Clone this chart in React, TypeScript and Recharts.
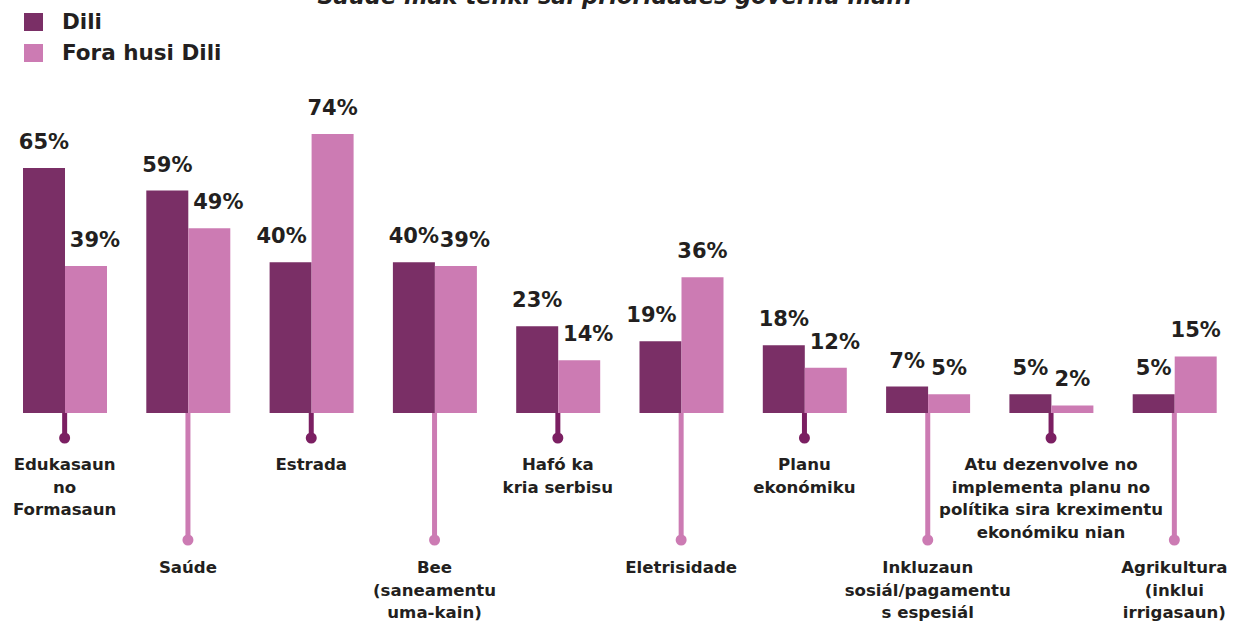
import React from "react";
import { BarChart, Bar, XAxis, YAxis, LabelList, Legend } from "recharts";

const categories = [
  "Edukasaun\nno\nFormasaun",
  "Saúde",
  "Estrada",
  "Bee\n(saneamentu\numa-kain)",
  "Hafó ka\nkria serbisu",
  "Eletrisidade",
  "Planu\nekonómiku",
  "Inkluzaun\nsosiál/pagamentu\ns espesiál",
  "Atu dezenvolve no\nimplementa planu no\npolítika sira kreximentu\nekonómiku nian",
  "Agrikultura\n(inklui\nirrigasaun)",
];
const dili = [65, 59, 40, 40, 23, 19, 18, 7, 5, 5];
const foraHusiDili = [39, 49, 74, 39, 14, 36, 12, 5, 2, 15];
const seriesNames = ["Dili", "Fora husi Dili"];
const title = "Saúde mak tenki sai prioridades governu nian?";

const data = categories.map((name, i) => ({
  name,
  dili: dili[i],
  fora: foraHusiDili[i],
}));

const DARK = "#7a2f66";
const PINK = "#cc7bb3";
const DARK_LINE = "#7b1f62";
const TEXT = "#231f20";
const FONT = "'DejaVu Sans', sans-serif";

const W = 1240;
const H = 621;
const margin = { top: 36, right: 4, bottom: 178, left: 3 };
const X_AXIS_H = 30;
const BASE = H - margin.bottom - X_AXIS_H; // bar baseline

// label above bar; the shorter bar of a pair gets nudged outward
const makeLabel = (mine: number[], other: number[], side: number) => (props: any) => {
  const { x, y, width, value, index } = props;
  let dx = 0;
  if (mine[index] < other[index] && mine[index] >= 10) dx = 9 * side;
  return (
    <text
      x={Number(x) + Number(width) / 2 + dx}
      y={Number(y) - 19}
      textAnchor="middle"
      fill={TEXT}
      fontFamily={FONT}
      fontWeight="bold"
      fontSize={21}
    >
      {value}%
    </text>
  );
};

const CategoryTick = (props: any) => {
  const { x, payload } = props;
  const low = payload.index % 2 === 1;
  const color = low ? PINK : DARK_LINE;
  const dotY = low ? 540 : 438;
  const textY = low ? 573 : 470;
  const lines = String(payload.value).split("\n");
  return (
    <g>
      <line x1={x} x2={x} y1={BASE} y2={dotY} stroke={color} strokeWidth={5} />
      <circle cx={x} cy={dotY} r={5.5} fill={color} />
      <text textAnchor="middle" fill={TEXT} fontFamily={FONT} fontWeight="bold" fontSize={16.6}>
        {lines.map((l, i) => (
          <tspan key={i} x={x} y={textY + i * 22.5}>
            {l}
          </tspan>
        ))}
      </text>
    </g>
  );
};

const renderLegend = () => (
  <div style={{ position: "relative", width: 260, height: 70 }}>
    {seriesNames.map((n, i) => (
      <div key={n} style={{ position: "absolute", left: 24, top: 13 + i * 31, display: "flex", alignItems: "center" }}>
        <span style={{ display: "inline-block", width: 19, height: 18, background: i === 0 ? DARK : PINK }} />
        <span
          style={{
            marginLeft: 19,
            fontFamily: FONT,
            fontWeight: "bold",
            fontSize: 21.5,
            color: TEXT,
            lineHeight: "18px",
          }}
        >
          {n}
        </span>
      </div>
    ))}
  </div>
);

export default function App() {
  return (
    <div style={{ position: "absolute", left: 0, top: 0, width: 1233, height: H, overflow: "hidden", background: "#fff" }}>
      <div
        style={{
          position: "absolute",
          left: 0,
          width: 1233,
          top: -16,
          textAlign: "center",
          fontFamily: FONT,
          fontWeight: "bold",
          fontStyle: "italic",
          fontSize: 22.5,
          color: TEXT,
          lineHeight: "24px",
        }}
      >
        {title}
      </div>
      <BarChart width={W} height={H} data={data} margin={margin} barGap={0} barCategoryGap={20}>
        <XAxis
          dataKey="name"
          axisLine={false}
          tickLine={false}
          interval={0}
          height={X_AXIS_H}
          tick={<CategoryTick />}
        />
        <YAxis hide domain={[0, 100]} />
        <Legend
          layout="horizontal"
          verticalAlign="middle"
          align="center"
          content={renderLegend}
          wrapperStyle={{ position: "absolute", left: 0, top: 0, width: 260, height: 70 }}
        />
        <Bar dataKey="dili" name={seriesNames[0]} fill={DARK} isAnimationActive={false}>
          <LabelList dataKey="dili" content={makeLabel(dili, foraHusiDili, -1)} />
        </Bar>
        <Bar dataKey="fora" name={seriesNames[1]} fill={PINK} isAnimationActive={false}>
          <LabelList dataKey="fora" content={makeLabel(foraHusiDili, dili, 1)} />
        </Bar>
      </BarChart>
    </div>
  );
}
